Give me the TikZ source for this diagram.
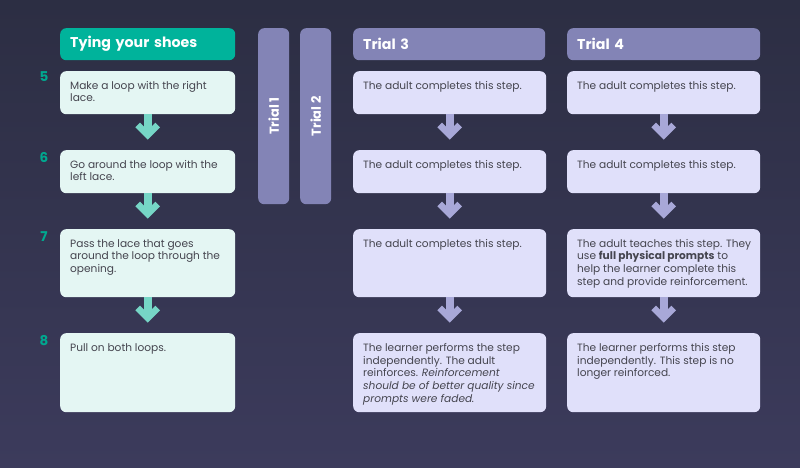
\documentclass[tikz,border=0pt]{standalone}
\usepackage{fontspec}
\setmainfont{Poppins}
\definecolor{bgtop}{HTML}{2C2E43}
\definecolor{bgbot}{HTML}{3C3B5C}
\definecolor{hteal}{HTML}{00B39B}
\definecolor{nteal}{HTML}{00A88F}
\definecolor{lboxc}{HTML}{E4F6F3}
\definecolor{rboxc}{HTML}{E0E0FA}
\definecolor{barc}{HTML}{8384B6}
\definecolor{tarr}{HTML}{76D6C6}
\definecolor{parr}{HTML}{A8A8D8}
\definecolor{txtc}{HTML}{45454F}
\newcommand\flowarrow[3]{%
  \draw[line width=8pt,#3] (#1.south) -- ([yshift=17pt]#2.north);
  \draw[line width=6.5pt,#3,miter limit=10] ([xshift=-10pt,yshift=25pt]#2.north) -- ([yshift=15pt]#2.north) -- ([xshift=10pt,yshift=25pt]#2.north);}
\begin{document}
\begin{tikzpicture}[x=1pt,y=-1pt,
  lbox/.style={anchor=north west, fill=lboxc, rounded corners=6pt, inner sep=0pt, minimum width=175pt},
  rbox/.style={anchor=north west, fill=rboxc, rounded corners=6pt, inner sep=0pt, minimum width=193pt},
  btxt/.style={anchor=north west, inner sep=0pt, align=left, font=\fontsize{10.6}{12.7}\selectfont, text=txtc},
  hdr/.style={anchor=north west, rounded corners=6pt, inner xsep=10pt, inner ysep=0pt, minimum height=32pt, align=left, text=white, font=\fontsize{14.2}{16}\selectfont\bfseries},
  tbar/.style={anchor=north west, fill=barc, rounded corners=6pt, inner sep=0pt, minimum width=31pt, minimum height=176pt},
  bartxt/.style={rotate=90, text=white, font=\fontsize{13}{15}\selectfont\bfseries, inner sep=0pt},
  num/.style={text=nteal, font=\fontsize{13.5}{15}\selectfont\bfseries, inner sep=0pt}
]
\useasboundingbox (0,0) rectangle (800,468);
\shade[top color=bgtop,bottom color=bgbot] (0,0) rectangle (800,468);

% headers
\node[hdr, fill=hteal, text width=155pt] (h0) at (60,28) {Tying your shoes};
\node[hdr, fill=barc, text width=172pt] (h3) at (353,28) {Trial 3};
\node[hdr, fill=barc, text width=173pt] (h4) at (567,28) {Trial 4};

% trial bars
\node[tbar] (t1) at (258,28) {};
\node[tbar] (t2) at (300,28) {};
\node[bartxt] (t1t) at (t1.center) {Trial 1};
\node[bartxt] (t2t) at (t2.center) {Trial 2};

% numbers
\node[num] (n5) at (44,77) {5};
\node[num] (n6) at (44,157) {6};
\node[num] (n7) at (44,237) {7};
\node[num] (n8) at (44,341) {8};

% left column
\node[lbox, minimum height=43pt] (l5) at (60,71) {};
\node[lbox, minimum height=43pt] (l6) at (60,150) {};
\node[lbox, minimum height=68pt] (l7) at (60,229) {};
\node[lbox, minimum height=79pt] (l8) at (60,333) {};
% trial 3
\node[rbox, minimum height=43pt] (a5) at (353,71) {};
\node[rbox, minimum height=43pt] (a6) at (353,150) {};
\node[rbox, minimum height=68pt] (a7) at (353,229) {};
\node[rbox, minimum height=79pt] (a8) at (353,333) {};
% trial 4
\node[rbox, minimum height=43pt] (b5) at (567,71) {};
\node[rbox, minimum height=43pt] (b6) at (567,150) {};
\node[rbox, minimum height=68pt] (b7) at (567,229) {};
\node[rbox, minimum height=79pt] (b8) at (567,333) {};

% texts
\node[btxt] (l5t) at ([xshift=10pt,yshift=-10pt]l5.north west) {Make a loop with the right\\lace.};
\node[btxt] (l6t) at ([xshift=10pt,yshift=-10pt]l6.north west) {Go around the loop with the\\left lace.};
\node[btxt] (l7t) at ([xshift=10pt,yshift=-10pt]l7.north west) {Pass the lace that goes\\around the loop through the\\opening.};
\node[btxt] (l8t) at ([xshift=10pt,yshift=-10pt]l8.north west) {Pull on both loops.};

\node[btxt] (a5t) at ([xshift=10pt,yshift=-10pt]a5.north west) {The adult completes this step.};
\node[btxt] (a6t) at ([xshift=10pt,yshift=-10pt]a6.north west) {The adult completes this step.};
\node[btxt] (a7t) at ([xshift=10pt,yshift=-10pt]a7.north west) {The adult completes this step.};
\node[btxt] (a8t) at ([xshift=10pt,yshift=-10pt]a8.north west) {The learner performs the step\\independently. The adult\\reinforces. \textit{Reinforcement}\\\textit{should be of better quality since}\\\textit{prompts were faded.}};

\node[btxt] (b5t) at ([xshift=10pt,yshift=-10pt]b5.north west) {The adult completes this step.};
\node[btxt] (b6t) at ([xshift=10pt,yshift=-10pt]b6.north west) {The adult completes this step.};
\node[btxt] (b7t) at ([xshift=10pt,yshift=-10pt]b7.north west) {The adult teaches this step. They\\use \textbf{full physical prompts} to\\help the learner complete this\\step and provide reinforcement.};
\node[btxt] (b8t) at ([xshift=10pt,yshift=-10pt]b8.north west) {The learner performs this step\\independently. This step is no\\longer reinforced.};

% arrows
\flowarrow{l5}{l6}{tarr}
\flowarrow{l6}{l7}{tarr}
\flowarrow{l7}{l8}{tarr}
\flowarrow{a5}{a6}{parr}
\flowarrow{a6}{a7}{parr}
\flowarrow{a7}{a8}{parr}
\flowarrow{b5}{b6}{parr}
\flowarrow{b6}{b7}{parr}
\flowarrow{b7}{b8}{parr}
\end{tikzpicture}
\end{document}
